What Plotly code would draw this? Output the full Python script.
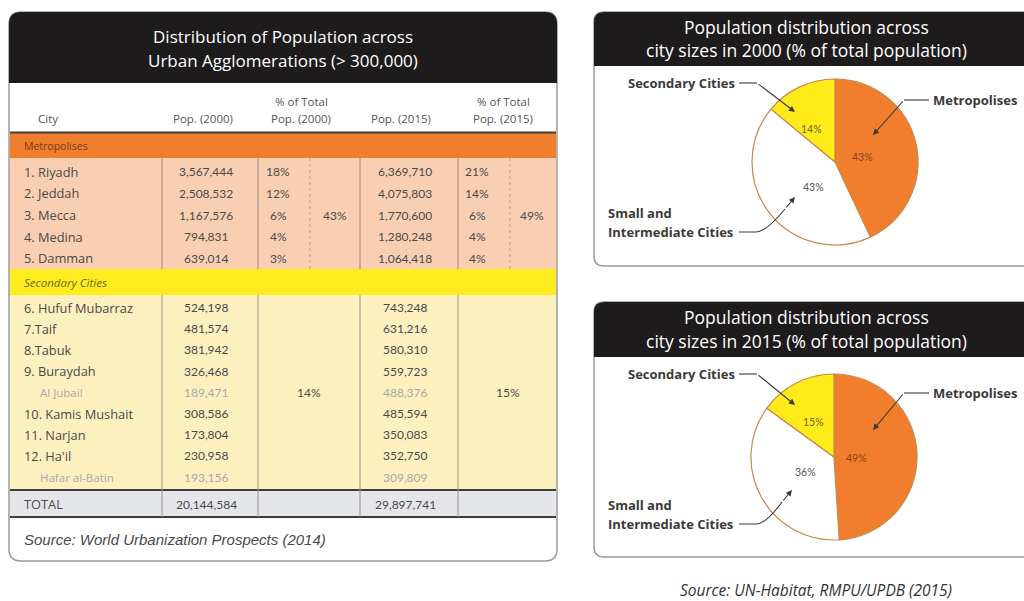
import plotly.graph_objects as go

# ---------------- data ----------------
table_title = ["Distribution of Population across", "Urban Agglomerations (> 300,000)"]
col_headers = ["City", "Pop. (2000)", "% of Total<br>Pop. (2000)", "Pop. (2015)", "% of Total<br>Pop. (2015)"]

metro_cities = ["1. Riyadh", "2. Jeddah", "3. Mecca", "4. Medina", "5. Damman"]
metro_pop2000 = [3567444, 2508532, 1167576, 794831, 639014]
metro_pct2000 = [18, 12, 6, 4, 3]
metro_pop2015 = [6369710, 4075803, 1770600, 1280248, 1064418]
metro_pct2015 = [21, 14, 6, 4, 4]
metro_share2000 = 43
metro_share2015 = 49

sec_cities = ["6. Hufuf Mubarraz", "7.Taif", "8.Tabuk", "9. Buraydah", "Al Jubail",
              "10. Kamis Mushait", "11. Narjan", "12. Ha'il", "Hafar al-Batin"]
sec_pop2000 = [524198, 481574, 381942, 326468, 189471, 308586, 173804, 230958, 193156]
sec_pop2015 = [743248, 631216, 580310, 559723, 488376, 485594, 350083, 352750, 309809]
sec_minor = [False, False, False, False, True, False, False, False, True]
sec_share2000 = 14
sec_share2015 = 15

total_pop2000 = 20144584
total_pop2015 = 29897741

table_source = "Source: World Urbanization Prospects (2014)"

pie_categories = ["Metropolises", "Small and Intermediate Cities", "Secondary Cities"]
pie_share2000 = [43, 43, 14]
pie_share2015 = [49, 36, 15]
pie_titles = ["Population distribution across<br>city sizes in 2000 (% of total population)",
              "Population distribution across<br>city sizes in 2015 (% of total population)"]
pie_source = "Source: UN-Habitat, RMPU/UPDB (2015)"

# ---------------- styling ----------------
FONT = "Open Sans"
NUMFONT = "Lato"
BLACK = "#1e1b1c"
ORANGE = "#F07E2C"
SALMON = "#F9CFB3"
YELLOW = "#FFEC1E"
LIGHTY = "#FDF0BF"
GREYROW = "#E5E6EA"
TXT = "#4a4a4a"
PIE_COLORS = [ORANGE, "#FFFFFF", "#FFEB1A"]

fig = go.Figure()
shapes = []
anns = []


def rrect_path(x0, y0, x1, y1, r, top=True, bottom=True):
    p = []
    if top:
        p.append(f"M {x0},{y0 + r} Q {x0},{y0} {x0 + r},{y0} L {x1 - r},{y0} Q {x1},{y0} {x1},{y0 + r}")
    else:
        p.append(f"M {x0},{y0} L {x1},{y0}")
    if bottom:
        p.append(f"L {x1},{y1 - r} Q {x1},{y1} {x1 - r},{y1} L {x0 + r},{y1} Q {x0},{y1} {x0},{y1 - r}")
    else:
        p.append(f"L {x1},{y1} L {x0},{y1}")
    p.append("Z")
    return " ".join(p)


def path(d, fill=None, line=None, lw=1, layer="below"):
    s = dict(type="path", xref="x", yref="y", path=d, layer=layer,
             line=dict(color=line or "rgba(0,0,0,0)", width=lw if line else 0))
    if fill:
        s["fillcolor"] = fill
    shapes.append(s)


def rect(x0, y0, x1, y1, fill, layer="below"):
    shapes.append(dict(type="rect", xref="x", yref="y", x0=x0, y0=y0, x1=x1, y1=y1,
                       fillcolor=fill, line=dict(width=0), layer=layer))


def line(x0, y0, x1, y1, color, w=1, dash="solid", layer="below"):
    shapes.append(dict(type="line", xref="x", yref="y", x0=x0, y0=y0, x1=x1, y1=y1,
                       line=dict(color=color, width=w, dash=dash), layer=layer))


def text(x, y, s, size=12, color=TXT, anchor="center", family=FONT, align="center"):
    anns.append(dict(x=x, y=y, xref="x", yref="y", text=s, showarrow=False,
                     xanchor=anchor, yanchor="middle", align=align,
                     font=dict(size=size, color=color, family=family)))


def arrow(tx, ty, hx, hy, color="#3a3a3a"):
    anns.append(dict(x=hx, y=hy, ax=tx, ay=ty, xref="x", yref="y", axref="x", ayref="y",
                     text="", showarrow=True, arrowhead=2, arrowsize=1.1, arrowwidth=1.1,
                     arrowcolor=color, standoff=0))


W, H = 1024, 601
# invisible trace so the pixel-space cartesian axes exist
fig.add_trace(go.Scatter(x=[0, W], y=[0, H], mode="markers", marker=dict(opacity=0),
                         hoverinfo="skip", showlegend=False))

# ---------------- table panel ----------------
L, R = 9, 557
path(rrect_path(L, 12, R, 561, 12), fill="#FFFFFF", line="#9a9a9a", lw=1.5)
path(rrect_path(L, 12, R, 83, 12, bottom=False), fill=BLACK)
text(283, 36, table_title[0], size=17, color="#FFFFFF")
text(283, 60, table_title[1], size=17, color="#FFFFFF")

# header row
hx = [36, 203, 301, 401, 503]
for i, h in enumerate(col_headers):
    if i == 0:
        text(hx[i], 118, h, size=11.5, color="#555555", anchor="left")
    elif "<br>" in h:
        a, b = h.split("<br>")
        text(hx[i], 101, a, size=11.5, color="#555555")
        text(hx[i], 118, b, size=11.5, color="#555555")
    else:
        text(hx[i], 118, h, size=11.5, color="#555555")

# bands
rect(L + 1, 133, R - 1, 158, ORANGE)
rect(L + 1, 158, R - 1, 269, SALMON)
rect(L + 1, 269, R - 1, 295, YELLOW)
rect(L + 1, 295, R - 1, 490, LIGHTY)
rect(L + 1, 490, R - 1, 517, GREYROW)
for yy in (132.5, 490, 517):
    line(L + 1, yy, R - 1, yy, "#3c3c3c", w=2.2)

# vertical separators
for xx in (162, 258, 360, 458):
    line(xx, 158, xx, 269, "#a08878", w=1)
    line(xx, 295, xx, 517, "#9a9080", w=1)
for xx in (310, 510):
    line(xx, 158, xx, 269, "#c0a290", w=1, dash="dot")

text(22, 146, "Metropolises", size=10.5, color="#7a3a12", anchor="left")
text(22, 282, "<i>Secondary Cities</i>", size=11.5, color="#6a6a18", anchor="left")

C_CITY, C_P00, C_PC00, C_G00, C_P15, C_PC15, C_G15 = 22, 206, 278, 335, 405, 477, 532
CS, NS = 12.8, 12

m_y0, m_h = 171.8, 21.6
for i, c in enumerate(metro_cities):
    y = m_y0 + i * m_h
    text(C_CITY, y, c, size=CS, anchor="left")
    text(C_P00, y, f"{metro_pop2000[i]:,}", size=NS, family=NUMFONT)
    text(C_PC00, y, f"{metro_pct2000[i]}%", size=NS, family=NUMFONT)
    text(C_P15, y, f"{metro_pop2015[i]:,}", size=NS, family=NUMFONT)
    text(C_PC15, y, f"{metro_pct2015[i]}%", size=NS, family=NUMFONT)
mid = m_y0 + (len(metro_cities) - 1) / 2 * m_h
text(C_G00, mid, f"{metro_share2000}%", size=NS, family=NUMFONT)
text(C_G15, mid, f"{metro_share2015}%", size=NS, family=NUMFONT)

s_y0, s_h = 307.5, 21.2
for i, c in enumerate(sec_cities):
    y = s_y0 + i * s_h
    col = "#a8a8a8" if sec_minor[i] else TXT
    text(38 if sec_minor[i] else C_CITY, y, c, size=CS if not sec_minor[i] else 11.5,
         color=col, anchor="left")
    text(C_P00, y, f"{sec_pop2000[i]:,}", size=NS, color=col, family=NUMFONT)
    text(C_P15, y, f"{sec_pop2015[i]:,}", size=NS, color=col, family=NUMFONT)
smid = s_y0 + (len(sec_cities) - 1) / 2 * s_h
text(309, smid, f"{sec_share2000}%", size=NS, family=NUMFONT)
text(508, smid, f"{sec_share2015}%", size=NS, family=NUMFONT)

text(C_CITY, 504, "TOTAL", size=CS, anchor="left")
text(C_P00, 504, f"{total_pop2000:,}", size=NS, family=NUMFONT)
text(C_P15, 504, f"{total_pop2015:,}", size=NS, family=NUMFONT)

text(22, 539, f"<i>{table_source}</i>", size=15, color="#4a4a4a", anchor="left",
     family="Liberation Sans")

# ---------------- pie panels ----------------
panels = [
    dict(y0=12, y1=266, hb=66, cx=835, cy=162, r=83, shares=pie_share2000,
         lab=[(862, 157), (813, 187), (811, 129)],
         sec=dict(ty=83, tip=(795, 112)), met=dict(ty=100, tip=(873, 135)),
         sml=dict(ty=232, tip=(795, 197))),
    dict(y0=302, y1=557, hb=357, cx=834, cy=457, r=83, shares=pie_share2015,
         lab=[(856, 458), (805, 472), (813, 422)],
         sec=dict(ty=374, tip=(795, 405)), met=dict(ty=393, tip=(873, 430)),
         sml=dict(ty=524, tip=(792, 490))),
]

for k, p in enumerate(panels):
    path(rrect_path(594, p["y0"], 1036, p["y1"], 10), fill="#FFFFFF", line="#9a9a9a", lw=1.5)
    path(rrect_path(594, p["y0"], 1036, p["hb"], 10, bottom=False), fill=BLACK)
    t1, t2 = pie_titles[k].split("<br>")
    hh = p["hb"] - p["y0"]
    text(806, p["y0"] + hh * 0.28, t1, size=17.5, color="#FFFFFF")
    text(806, p["y0"] + hh * 0.70, t2, size=17.5, color="#FFFFFF")

    cx, cy, r = p["cx"], p["cy"], p["r"]
    fig.add_trace(go.Pie(
        labels=pie_categories, values=p["shares"], sort=False, direction="clockwise",
        rotation=0, textinfo="none", hoverinfo="label+percent", showlegend=False,
        marker=dict(colors=PIE_COLORS, line=dict(color="#C7874A", width=1.2)),
        domain=dict(x=[(cx - r) / W, (cx + r) / W], y=[1 - (cy + r) / H, 1 - (cy - r) / H]),
    ))
    lab_colors = ["#8a4418", "#555555", "#6a6420"]
    for j, (lx, ly) in enumerate(p["lab"]):
        text(lx, ly, f"{p['shares'][j]}%", size=10.5, color=lab_colors[j], family=NUMFONT)

    # callouts
    text(737, p["sec"]["ty"], "<b>Secondary Cities</b>", size=13, color="#3a3a3a", anchor="right")
    line(739, p["sec"]["ty"], 757, p["sec"]["ty"], "#3a3a3a", w=1.1, layer="above")
    arrow(757, p["sec"]["ty"], *p["sec"]["tip"])

    text(931, p["met"]["ty"], "<b>Metropolises</b>", size=13, color="#3a3a3a", anchor="left")
    line(904, p["met"]["ty"], 929, p["met"]["ty"], "#3a3a3a", w=1.1, layer="above")
    arrow(904, p["met"]["ty"], *p["met"]["tip"])

    sy = p["sml"]["ty"]
    text(606, sy - 19, "<b>Small and</b>", size=13, color="#3a3a3a", anchor="left")
    text(606, sy, "<b>Intermediate Cities</b>", size=13, color="#3a3a3a", anchor="left")
    tx, ty = p["sml"]["tip"]
    path(f"M 739,{sy} L 756,{sy} Q 766,{sy} {tx - 10},{ty + 12}", line="#3a3a3a", lw=1.1,
         layer="above")
    arrow(tx - 10, ty + 12, tx, ty)

text(816, 590, f"<i>{pie_source}</i>", size=15.5, color="#333333")

fig.update_layout(
    width=W, height=H, autosize=False,
    margin=dict(l=0, r=0, t=0, b=0, pad=0),
    paper_bgcolor="#FFFFFF", plot_bgcolor="#FFFFFF",
    xaxis=dict(range=[0, W], visible=False, fixedrange=True, domain=[0, 1]),
    yaxis=dict(range=[H, 0], visible=False, fixedrange=True, domain=[0, 1]),
    shapes=shapes, annotations=anns, showlegend=False,
    font=dict(family=FONT),
)
fig.write_html("out.html")
